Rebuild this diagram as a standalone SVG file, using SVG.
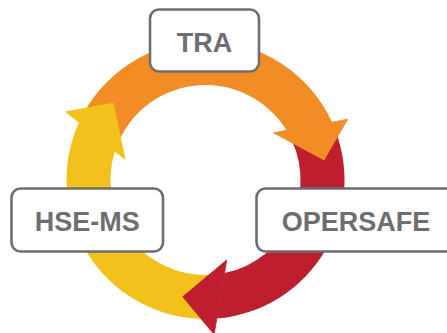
<svg xmlns="http://www.w3.org/2000/svg" width="447" height="333" viewBox="0 0 447 333">
<style>
.box{fill:#ffffff;stroke:#6d6e71;stroke-width:2.6}
.lbl{font-family:"Liberation Sans",Arial,sans-serif;font-weight:bold;font-size:27px;fill:#6d6e71;text-anchor:middle}
.or{fill:#f28d26}
.rd{fill:#be1e2d}
.ye{fill:#f3c11b}
.head{stroke-width:0.8;stroke-linejoin:round}
.head.or{stroke:#f28d26}
.head.rd{stroke:#be1e2d}
.head.ye{stroke:#f3c11b}
</style>
<rect width="447" height="333" fill="#ffffff"/>
<g id="connectors">
<path class="or" d="M79.0,122.4 A139,139 0 0 1 331.9,122.1 L286.5,130.3 A95,95 0 0 0 114.96,151.24 Z"/>
<path class="rd" d="M331.9,122.1 A139,139 0 0 1 216.8,318.5 L224.5,273.1 A95,95 0 0 0 286.5,130.3 Z"/>
<path class="ye" d="M216.8,318.5 A139,139 0 0 1 79.0,122.4 L114.96,151.24 A95,95 0 0 0 224.5,273.1 Z"/>
<polygon class="head ye" points="65.7,111.7 113.3,103.3 125,159.3"/>
<polygon class="head or" points="273.3,132.7 347.7,119.3 324,160"/>
<polygon class="head rd" points="226.7,260 214.1,334.5 182.7,296.7"/>
</g>
<g id="node-tra">
<rect class="box" x="150" y="9.5" width="109" height="62" rx="9"/>
<text class="lbl" x="204.5" y="51.5">TRA</text>
</g>
<g id="node-hse-ms">
<rect class="box" x="11.5" y="188.5" width="151.5" height="63" rx="9"/>
<text class="lbl" x="87.3" y="231">HSE-MS</text>
</g>
<g id="node-opersafe">
<rect class="box" x="256.5" y="188.5" width="200" height="63" rx="9"/>
<text class="lbl" x="356" y="231">OPERSAFE</text>
</g>
</svg>
